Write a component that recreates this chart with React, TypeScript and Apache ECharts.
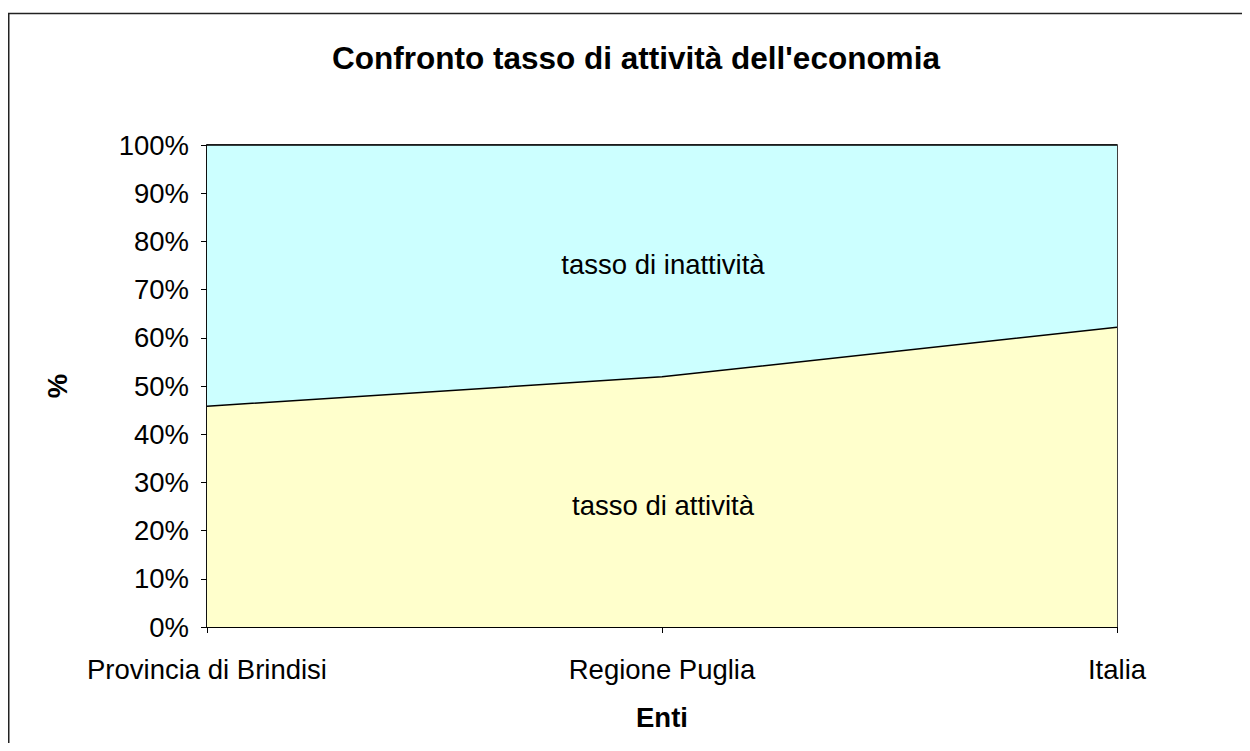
import React, { useEffect, useRef } from "react";
import * as echarts from "echarts";

const categories = ["Provincia di Brindisi", "Regione Puglia", "Italia"];
const attivita = [45.8, 51.9, 62.2];
const inattivita = [54.2, 48.1, 37.8];
const titleText = "Confronto tasso di attività dell'economia";
const labelAttivita = "tasso di attività";
const labelInattivita = "tasso di inattività";

const FONT = "'Liberation Sans', Arial, sans-serif";
const FS = 27.5;

export default function App() {
  const ref = useRef<HTMLDivElement>(null);
  useEffect(() => {
    if (!ref.current) return;
    const chart = echarts.init(ref.current, null, { renderer: "svg" });
    chart.setOption({
      animation: false,
      backgroundColor: "#fff",
      textStyle: { fontFamily: FONT },
      grid: {
        left: 199,
        top: 137,
        width: 910,
        height: 482,
        show: true,
        borderColor: "#000",
        borderWidth: 1.5,
        backgroundColor: "transparent",
      },
      xAxis: {
        type: "category",
        data: categories,
        boundaryGap: false,
        axisLine: { show: true, lineStyle: { color: "#000", width: 1 } },
        axisTick: { show: true, length: 6, lineStyle: { color: "#000" } },
        axisLabel: { color: "#000", fontSize: FS, fontFamily: FONT, margin: 28 },
        name: "Enti",
        nameLocation: "middle",
        nameGap: 76,
        nameTextStyle: { color: "#000", fontSize: FS, fontWeight: "bold", fontFamily: FONT },
      },
      yAxis: {
        type: "value",
        min: 0,
        max: 100,
        interval: 10,
        splitLine: { show: false },
        axisLine: { show: true, lineStyle: { color: "#000", width: 1.5 } },
        axisTick: { show: true, length: 6, lineStyle: { color: "#000" } },
        axisLabel: { color: "#000", fontSize: FS, fontFamily: FONT, margin: 18, formatter: "{value}%" },
        name: "%",
        nameLocation: "middle",
        nameGap: 136,
        nameRotate: 90,
        nameTextStyle: { color: "#000", fontSize: FS, fontWeight: "bold", fontFamily: FONT },
      },
      series: [
        {
          name: labelAttivita,
          type: "line",
          stack: "total",
          data: attivita,
          symbol: "none",
          lineStyle: { color: "#000", width: 1.5 },
          areaStyle: { color: "#FFFFCC", opacity: 1 },
          z: 2,
        },
        {
          name: labelInattivita,
          type: "line",
          stack: "total",
          data: inattivita,
          symbol: "none",
          lineStyle: { color: "#000", width: 1.5 },
          areaStyle: { color: "#CCFFFF", opacity: 1 },
          z: 1,
        },
      ],
      graphic: [
        {
          type: "polyline",
          shape: { points: [[0.75, 1000], [0.75, 5.5], [3000, 5.5]] },
          style: { fill: "none", stroke: "#222", lineWidth: 1.5 },
          silent: true,
        },
        {
          type: "text",
          x: 628,
          y: 50,
          style: {
            text: titleText,
            fontSize: 31.5,
            fontWeight: "bold",
            fontFamily: FONT,
            fill: "#000",
            align: "center",
            verticalAlign: "middle",
          },
        },
        {
          type: "text",
          x: 655,
          y: 256,
          z: 100,
          style: {
            text: labelInattivita,
            fontSize: FS,
            fontFamily: FONT,
            fill: "#000",
            align: "center",
            verticalAlign: "middle",
          },
        },
        {
          type: "text",
          x: 655,
          y: 497,
          z: 100,
          style: {
            text: labelAttivita,
            fontSize: FS,
            fontFamily: FONT,
            fill: "#000",
            align: "center",
            verticalAlign: "middle",
          },
        },
      ],
    });
    return () => chart.dispose();
  }, []);
  return <div ref={ref} style={{ width: 1242, height: 735 }} />;
}
